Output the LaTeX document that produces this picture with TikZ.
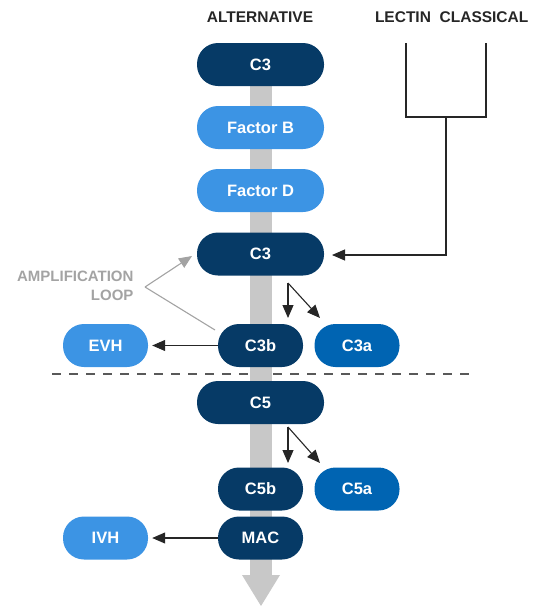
\documentclass[tikz,border=0pt]{standalone}
\usepackage{fontspec}
\setmainfont{Liberation Sans}
\usetikzlibrary{arrows.meta}

\definecolor{navy}{HTML}{063A66}
\definecolor{midblue}{HTML}{0064B2}
\definecolor{lightblue}{HTML}{3C94E4}
\definecolor{bargray}{HTML}{C8C8C8}
\definecolor{loopgray}{HTML}{A3A3A3}

\tikzset{
	pill/.style={rectangle, rounded corners=21pt, minimum height=43pt, inner sep=0pt,
		text=white, font=\fontsize{16.5}{18}\selectfont\bfseries},
	pillwide/.style={pill, minimum width=127pt},
	pillnarrow/.style={pill, minimum width=85pt},
	header/.style={font=\fontsize{15.5}{18}\selectfont\bfseries, text=black!85},
	tip/.style={-{Triangle[length=13pt,width=11pt]}},
	flow/.style={tip, line width=1.1pt, black!85},
}

\begin{document}
\begin{tikzpicture}[x=1pt, y=-1pt]
	\useasboundingbox (0,0) rectangle (544,606);

% divider
	\draw[black!65, line width=1.6pt, dash pattern=on 9pt off 8pt] (52,374) -- (472,374);

% gray pathway bar
	\fill[bargray] (249.5,80) rectangle (272,575);
	\fill[bargray] (242,575) -- (280,575) -- (261,606) -- cycle;

% headers
	\node[header] (alt) at (260,17) {ALTERNATIVE};
	\node[header] (lectin) at (403,17) {LECTIN};
	\node[header] (classical) at (484,17) {CLASSICAL};

% cascade
	\node[pillwide, fill=navy] (c3top) at (260.5,64.5) {C3};
	\node[pillwide, fill=lightblue] (fb) at (260.5,127.5) {Factor B};
	\node[pillwide, fill=lightblue] (fd) at (260.5,190.5) {Factor D};
	\node[pillwide, fill=navy] (c3) at (260.5,254) {C3};
	\node[pillnarrow, fill=navy] (c3b) at (260.5,345.5) {C3b};
	\node[pillnarrow, fill=midblue] (c3a) at (357,345.5) {C3a};
	\node[pillnarrow, fill=lightblue] (evh) at (105.5,345.5) {EVH};
	\node[pillwide, fill=navy] (c5) at (260.5,402.5) {C5};
	\node[pillnarrow, fill=navy] (c5b) at (260.5,489) {C5b};
	\node[pillnarrow, fill=midblue] (c5a) at (357,489) {C5a};
	\node[pillnarrow, fill=navy] (mac) at (260.5,538) {MAC};
	\node[pillnarrow, fill=lightblue] (ivh) at (105.5,538) {IVH};

% lectin / classical entry
	\coordinate (lt) at (406,43);
	\coordinate (ct) at (486,43);
	\coordinate (lb) at (406,117);
	\coordinate (cb) at (486,117);
	\coordinate (mid) at (446,117);
	\coordinate (turn) at (446,255);
	\coordinate (c3in) at (332,255);
	\draw[line width=1.1pt, black!85] (lt) -- (lb) -- (cb) -- (ct);
	\draw[flow] (mid) -- (turn) -- (c3in);

% cleavage arrows
	\coordinate (s3) at (288,283);
	\coordinate (s3d) at (288,318);
	\coordinate (s3r) at (320,318);
	\draw[flow] (s3) -- (s3d);
	\draw[flow] (s3) -- (s3r);
	\coordinate (s5) at (288,427);
	\coordinate (s5d) at (288,463);
	\coordinate (s5r) at (320,463);
	\draw[flow] (s5) -- (s5d);
	\draw[flow] (s5) -- (s5r);

% hemolysis arrows
	\draw[flow] (c3b.west) -- ([xshift=4pt]evh.east);
	\draw[flow] (mac.west) -- ([xshift=4pt]ivh.east);

% amplification loop
	\node[font=\fontsize{15}{19.5}\selectfont\bfseries, text=loopgray, align=right, anchor=east]
		(amp) at (137,286) {AMPLIFICATION\\LOOP};
	\coordinate (vtx) at (145,287);
	\coordinate (looptip) at (192,256);
	\coordinate (loopend) at (215,330);
	\draw[tip, loopgray, line width=1.1pt] (vtx) -- (looptip);
	\draw[loopgray, line width=1.1pt] (vtx) -- (loopend);
\end{tikzpicture}
\end{document}
